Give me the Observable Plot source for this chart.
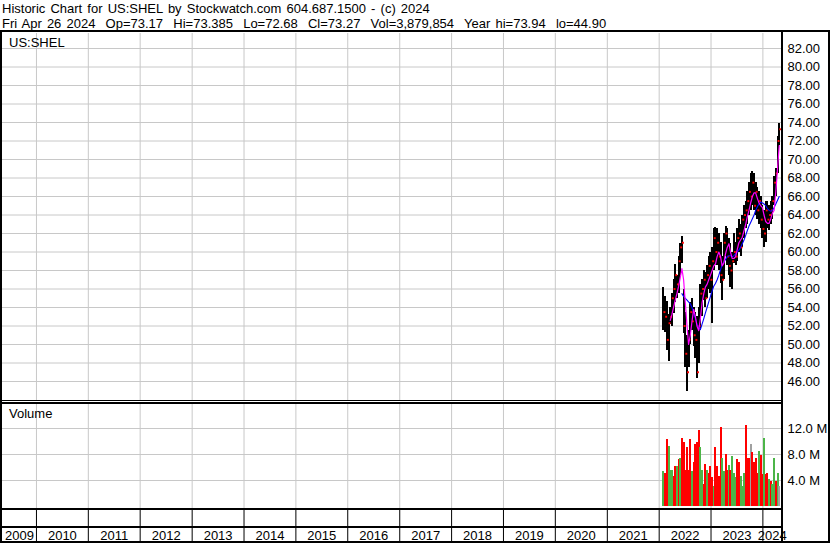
<!DOCTYPE html>
<html><head><meta charset="utf-8">
<script src="https://cdn.jsdelivr.net/npm/d3@7"></script>
<script src="https://cdn.jsdelivr.net/npm/@observablehq/plot@0.6"></script>
<style>
html,body{margin:0;padding:0;background:#fff;}
#chart{position:relative;width:830px;height:543px;overflow:hidden;font-family:"Liberation Sans",Arial,sans-serif;font-size:13px;color:#000;}
.t{position:absolute;white-space:pre;line-height:13px;font-size:13px;word-spacing:1.5px;}
.b{position:absolute;background:#000;z-index:5;}
.p{position:absolute;left:0;top:0;}
</style></head><body><div id="chart"></div>
<script>
// ---- data ----
const titleLine1 = "Historic Chart for US:SHEL by Stockwatch.com 604.687.1500 - (c) 2024";
const titleLine2 = "Fri Apr 26 2024  Op=73.17  Hi=73.385  Lo=72.68  Cl=73.27  Vol=3,879,854  Year hi=73.94  lo=44.90";
const symbolLabel = "US:SHEL";
const volumeLabel = "Volume";

const dates = ["2022-01-31","2022-02-12","2022-02-24","2022-03-08","2022-03-20","2022-03-31","2022-04-12","2022-04-24","2022-05-06","2022-05-18",
"2022-05-29","2022-06-10","2022-06-22","2022-07-04","2022-07-16","2022-07-27","2022-08-08","2022-08-20","2022-09-01","2022-09-13",
"2022-09-24","2022-10-06","2022-10-18","2022-10-30","2022-11-11","2022-11-22","2022-12-04","2022-12-16","2022-12-28","2023-01-09",
"2023-01-20","2023-02-01","2023-02-13","2023-02-25","2023-03-09","2023-03-20","2023-04-01","2023-04-13","2023-04-25","2023-05-07",
"2023-05-18","2023-05-30","2023-06-11","2023-06-23","2023-07-05","2023-07-16","2023-07-28","2023-08-09","2023-08-21","2023-09-02",
"2023-09-13","2023-09-25","2023-10-07","2023-10-19","2023-10-31","2023-11-11","2023-11-23","2023-12-05","2023-12-17","2023-12-29",
"2024-01-09","2024-01-21","2024-02-02","2024-02-14","2024-02-26","2024-03-08","2024-03-20","2024-04-01","2024-04-13","2024-04-25"];

const highs = [56.2,55.2,54.6,53.2,54.0,55.5,57.0,58.7,57.5,59.5,
60.9,61.7,56.0,53.5,51.0,51.5,54.5,55.0,54.0,53.5,
53.0,54.0,56.5,57.0,58.0,57.8,58.5,59.5,60.0,60.5,
62.5,62.7,62.5,62.0,61.0,59.5,62.0,62.8,62.5,61.5,
60.9,60.0,62.0,61.0,62.5,63.5,63.0,64.0,65.0,65.5,
66.5,67.5,68.5,68.7,68.5,67.5,67.0,66.5,66.0,65.0,
64.5,65.5,65.5,65.0,65.5,66.0,68.2,69.0,72.5,73.94];

const lows = [51.5,51.3,49.4,48.2,52.2,52.0,53.3,54.5,55.0,55.5,
57.5,58.8,51.2,47.5,44.9,47.5,50.0,51.5,49.8,48.5,
46.3,48.0,51.5,53.0,54.8,54.0,55.0,56.0,55.5,52.3,
58.0,58.5,58.5,58.0,56.6,54.8,57.0,59.5,58.5,57.5,
56.2,55.9,58.8,58.5,59.0,60.0,59.5,60.5,61.5,62.5,
63.0,64.0,64.5,65.0,64.5,64.0,63.5,63.0,62.5,61.5,
60.5,61.0,62.5,62.3,63.0,63.5,65.0,66.0,68.5,71.5];

const closes = [53.5,53.0,50.5,52.3,53.0,55.0,56.0,57.5,56.5,59.0,
60.5,61.0,52.0,49.0,47.0,50.5,53.5,52.5,51.0,50.5,
47.0,52.0,55.5,56.0,57.0,55.0,57.5,58.5,57.0,59.0,
61.5,60.0,61.0,59.5,57.5,57.0,61.0,62.0,59.5,58.5,
58.0,59.0,60.0,59.5,61.5,62.0,60.5,63.5,64.0,64.5,
65.5,66.5,66.0,67.5,65.0,66.5,64.5,65.5,63.5,62.5,
62.0,64.5,63.5,64.0,64.5,65.5,67.5,68.5,72.0,73.27];

const maShort = [null,null,null,null,52.6,53.2,54.0,54.8,55.5,56.3,
57.2,58.2,57.0,54.5,52.0,50.0,51.0,52.5,53.8,53.0,
52.0,51.5,52.8,54.5,55.5,56.2,56.5,57.0,57.5,58.0,
58.5,58.7,59.5,60.0,59.5,58.5,58.8,59.8,60.5,60.9,
60.0,59.3,59.3,59.5,60.3,61.0,61.3,61.6,62.3,63.0,
63.8,64.5,65.3,66.0,66.4,66.4,65.8,65.3,65.0,64.8,
64.0,63.3,63.1,63.1,63.6,64.2,64.5,66.5,69.0,71.5];

const maLong = [null,null,null,null,null,null,null,null,null,null,
null,55.5,55.2,55.0,54.8,54.6,54.4,54.0,53.4,52.8,
52.2,51.8,51.6,52.2,52.8,53.4,54.0,54.6,55.2,55.8,
56.3,56.6,57.0,57.5,58.1,58.6,58.9,59.2,59.5,59.6,
59.6,59.5,59.6,59.8,60.0,60.2,60.5,60.9,61.3,61.8,
62.3,62.8,63.2,63.6,64.0,64.5,64.9,65.2,65.4,65.3,
65.2,65.0,64.7,64.5,64.4,64.5,64.8,65.2,65.6,66.0];

// volume in millions, direction: u = up (green), d = down (red), n = unchanged (gray)
const volumes = [5.8,5.5,10.7,9.6,6.0,6.0,5.0,6.6,6.6,7.6,
7.7,10.8,10.2,6.0,9.4,6.0,10.7,5.8,7.1,10.0,
10.2,12.1,9.4,6.0,3.7,6.8,6.0,5.5,6.6,4.8,
3.5,9.5,6.6,5.0,12.5,7.7,5.8,8.4,6.0,6.7,
6.0,8.1,5.5,4.8,7.6,7.2,5.0,3.5,5.5,12.8,
7.8,7.8,9.9,8.7,7.1,7.8,5.5,8.9,8.2,5.3,
10.9,5.3,5.5,4.5,4.3,3.7,7.8,4.3,5.5,3.5];
const volDir = ["u","d","d","u","u","u","d","d","u","d",
"u","d","d","d","d","d","d","u","d","d",
"d","d","u","u","d","d","u","d","d","d",
"u","d","d","d","d","u","u","d","d","u",
"d","u","u","u","d","d","u","u","u","d",
"d","d","n","d","d","d","d","u","d","d",
"u","d","d","u","d","u","u","d","u","n"];

const priceTicks = [46,48,50,52,54,56,58,60,62,64,66,68,70,72,74,76,78,80,82];
const volumeTicks = [4,8,12];
const yearStarts = ["2010-01-01","2011-01-01","2012-01-01","2013-01-01","2014-01-01","2015-01-01","2016-01-01",
"2017-01-01","2018-01-01","2019-01-01","2020-01-01","2021-01-01","2022-01-01","2023-01-01","2024-01-01"];
const yearLabels = ["2009","2010","2011","2012","2013","2014","2015","2016","2017","2018","2019","2020","2021","2022","2023","2024"];
const xDomain = ["2009-05-07","2024-05-11"];

// ---- build ----
const parse = s => new Date(s + "T00:00:00Z");
const rows = dates.map((d, i) => ({date: parse(d), high: highs[i], low: lows[i], close: closes[i],
  maS: maShort[i], maL: maLong[i], vol: volumes[i], dir: volDir[i]}));
const ys = yearStarts.map(parse);
const dom = xDomain.map(parse);
const yearRows = yearLabels.map(l => {
  const a = Math.max(+parse(l + "-01-01"), +dom[0]);
  const b = Math.min(+parse((+l + 1) + "-01-01"), +dom[1]);
  return {label: l, mid: new Date((a + b) / 2)};
});

const W = 830, H = 543;
const font = "'Liberation Sans', Arial, sans-serif";
const style = {background: "transparent", overflow: "visible", fontFamily: font, fontSize: "13px", color: "#000"};
const grid = "#c8c8c8";
const xOpt = {type: "utc", domain: dom, axis: null};
const common = {width: W, height: H, marginLeft: 2, marginRight: 49, style};

const price = Plot.plot({
  ...common, marginTop: 33, marginBottom: H - 400,
  x: xOpt,
  y: {domain: [43.946, 83.622], axis: null, label: null},
  marks: [
    Plot.ruleY(priceTicks, {y: d => d, stroke: grid, strokeWidth: 1}),
    Plot.ruleX(ys, {x: d => d, stroke: grid, strokeWidth: 1}),
    Plot.ruleX(rows, {x: "date", y1: "low", y2: "high", stroke: "#000", strokeWidth: 2, shapeRendering: "crispEdges"}),
    Plot.dot(rows, {x: "date", y: "close", symbol: "square", r: 1.1, fill: "#ff0000", stroke: null, dx: 1}),
    Plot.line(rows, {x: "date", y: "maL", stroke: "#0000ff", strokeWidth: 1.1, defined: d => d.maL != null}),
    Plot.line(rows, {x: "date", y: "maS", stroke: "#ff00ff", strokeWidth: 1.2, defined: d => d.maS != null}),
    Plot.axisY(priceTicks, {anchor: "right", tickSize: 0, tickPadding: 6, fontSize: 13, tickFormat: d => d.toFixed(2), label: null})
  ]
});

const colorOf = {u: "#4cb548", d: "#ff0000", n: "#a0a0a0"};
const volume = Plot.plot({
  ...common, marginTop: 403, marginBottom: H - 506,
  x: xOpt,
  y: {domain: [0, (506 - 403) / 6.5], axis: null, label: null},
  marks: [
    Plot.ruleY(volumeTicks, {y: d => d, stroke: grid, strokeWidth: 1}),
    Plot.ruleX(ys, {x: d => d, stroke: grid, strokeWidth: 1, insetBottom: -2}),
    Plot.ruleX(rows, {x: "date", y1: 0, y2: "vol", stroke: d => colorOf[d.dir], strokeWidth: 2, insetBottom: -2.5, shapeRendering: "crispEdges"}),
    Plot.axisY(volumeTicks, {anchor: "right", tickSize: 0, tickPadding: 6, fontSize: 13, tickFormat: d => d.toFixed(1) + " M", label: null})
  ]
});

const axisRow = Plot.plot({
  ...common, marginTop: 510, marginBottom: 2,
  x: xOpt,
  marks: [
    Plot.ruleX(ys, {x: d => d, stroke: "#000", strokeWidth: 1}),
    Plot.text(yearRows, {x: "mid", text: "label", frameAnchor: "bottom", lineAnchor: "bottom", dy: -2, fontSize: 13, fill: "#000"})
  ]
});

const chart = document.getElementById("chart");
for (const svg of [price, volume, axisRow]) {
  const w = document.createElement("div"); w.className = "p"; w.appendChild(svg); chart.appendChild(w);
}
function txt(s, x, top) { const e = document.createElement("div"); e.className = "t"; e.style.left = x + "px"; e.style.top = top + "px"; e.textContent = s; chart.appendChild(e); }
txt(titleLine1, 2, 2.3);
txt(titleLine2, 2, 16.7);
txt(symbolLabel, 9, 35.7);
txt(volumeLabel, 9, 406.7);
function bar(l, t, w, h) { const e = document.createElement("div"); e.className = "b"; Object.assign(e.style, {left: l + "px", top: t + "px", width: w + "px", height: h + "px"}); chart.appendChild(e); }
bar(0, 30, 830, 2);       // top rule under title
bar(0, 30, 2, 513);       // left border
bar(781, 30, 2, 513);     // plot right border
bar(828, 30, 2, 513);     // outer right border
bar(0, 400, 783, 1);      // panel separator (double)
bar(0, 402, 783, 1.5);
bar(0, 508, 783, 2);      // volume bottom
bar(0, 525.5, 783, 2);    // between date rows
bar(0, 540.5, 830, 2.5);  // bottom
</script></body></html>
